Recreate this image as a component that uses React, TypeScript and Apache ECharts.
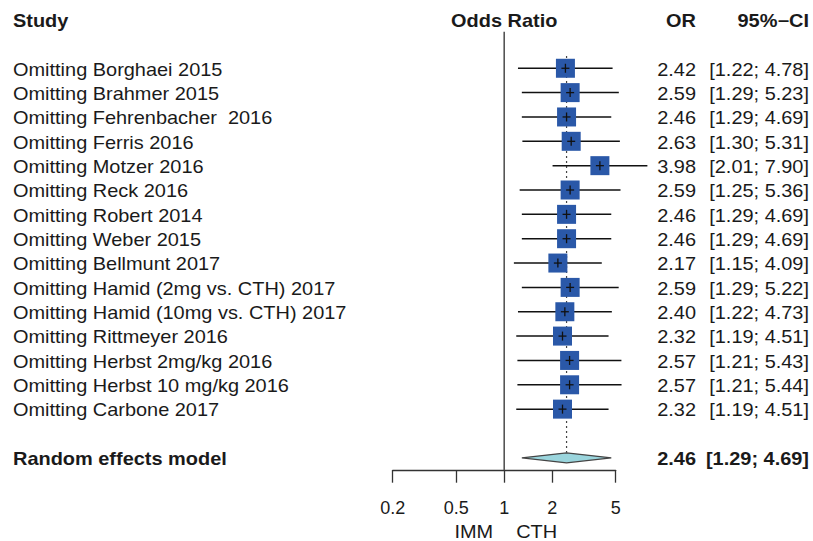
import React, { useEffect, useRef } from "react";
import * as echarts from "echarts";

const studies = [
  "Omitting Borghaei 2015",
  "Omitting Brahmer 2015",
  "Omitting Fehrenbacher  2016",
  "Omitting Ferris 2016",
  "Omitting Motzer 2016",
  "Omitting Reck 2016",
  "Omitting Robert 2014",
  "Omitting Weber 2015",
  "Omitting Bellmunt 2017",
  "Omitting Hamid (2mg vs. CTH) 2017",
  "Omitting Hamid (10mg vs. CTH) 2017",
  "Omitting Rittmeyer 2016",
  "Omitting Herbst 2mg/kg 2016",
  "Omitting Herbst 10 mg/kg 2016",
  "Omitting Carbone 2017",
];
const orValues = [2.42, 2.59, 2.46, 2.63, 3.98, 2.59, 2.46, 2.46, 2.17, 2.59, 2.4, 2.32, 2.57, 2.57, 2.32];
const ciLower = [1.22, 1.29, 1.29, 1.3, 2.01, 1.25, 1.29, 1.29, 1.15, 1.29, 1.22, 1.19, 1.21, 1.21, 1.19];
const ciUpper = [4.78, 5.23, 4.69, 5.31, 7.9, 5.36, 4.69, 4.69, 4.09, 5.22, 4.73, 4.51, 5.43, 5.44, 4.51];
const pooledLabel = "Random effects model";
const pooledValues = [2.46, 1.29, 4.69]; // OR, lower, upper
const tickValues = [0.2, 0.5, 1, 2, 5];
const headers = ["Study", "Odds Ratio", "OR", "95%\u2212CI"];
const sideLabels = ["IMM", "CTH"];

const FONT_FAMILY = '"Liberation Sans", Arial, Helvetica, sans-serif';
const FS = 17.5;
const SX = 1.14;
const TEXT_COLOR = "#1a1a1a";
const POOLED_ROW = 16;
const HEADER_ROW = -2;
const TEXT_DY = 1.2;

const fmt = (v: number) => v.toFixed(2);
const ciText = (lo: number, hi: number) => `[${fmt(lo)}; ${fmt(hi)}]`;

function txt(text: string, x: number, y: number, align: string, bold: boolean) {
  return {
    type: "text",
    x,
    y: y + TEXT_DY,
    scaleX: SX,
    silent: true,
    style: {
      text,
      x: 0,
      y: 0,
      align,
      verticalAlign: "middle",
      fill: TEXT_COLOR,
      font: `${bold ? "bold " : ""}${FS}px ${FONT_FAMILY}`,
    },
  };
}

export default function App() {
  const ref = useRef<HTMLDivElement>(null);

  useEffect(() => {
    if (!ref.current) return;
    const chart = echarts.init(ref.current, null, { renderer: "svg" });

    const studyData = studies.map((_, i) => [
      Math.log10(orValues[i]),
      Math.log10(ciLower[i]),
      Math.log10(ciUpper[i]),
      i,
    ]);

    const textRows = [
      { row: HEADER_ROW, label: headers[0], or: headers[2], ci: headers[3], bold: true },
      ...studies.map((s, i) => ({
        row: i,
        label: s,
        or: fmt(orValues[i]),
        ci: ciText(ciLower[i], ciUpper[i]),
        bold: false,
      })),
      {
        row: POOLED_ROW,
        label: pooledLabel,
        or: fmt(pooledValues[0]),
        ci: ciText(pooledValues[1], pooledValues[2]),
        bold: true,
      },
    ];

    const option: any = {
      animation: false,
      backgroundColor: "#ffffff",
      grid: { left: 392.7, right: 197.3, top: 7.4, bottom: 71, containLabel: false },
      xAxis: {
        type: "value",
        min: Math.log10(tickValues[0]),
        max: Math.log10(tickValues[tickValues.length - 1]),
        splitLine: { show: false },
        axisLine: { show: true, onZero: false, lineStyle: { color: "#333", width: 1.3 } },
        axisTick: {
          show: true,
          length: 12.7,
          customValues: tickValues.map((v) => Math.log10(v)),
          lineStyle: { color: "#333", width: 1.3 },
        },
        axisLabel: {
          show: true,
          customValues: tickValues.map((v) => Math.log10(v)),
          formatter: (v: number) => {
            const r = Math.pow(10, v);
            return String(Math.round(r * 10) / 10);
          },
          margin: 29,
          fontSize: 18,
          fontFamily: FONT_FAMILY,
          color: TEXT_COLOR,
          showMinLabel: true,
          showMaxLabel: true,
        },
      },
      yAxis: {
        type: "value",
        inverse: true,
        min: -2.5,
        max: 16.5,
        show: false,
      },
      series: [
        {
          type: "custom",
          name: "reference",
          clip: false,
          silent: true,
          data: [[Math.log10(1), Math.log10(pooledValues[0]), Math.log10(pooledValues[1]), Math.log10(pooledValues[2])]],
          renderItem: (params: any, api: any) => {
            const xNull = api.coord([api.value(0), 0])[0];
            const xe = api.coord([api.value(1), 0])[0];
            const xl = api.coord([api.value(2), 0])[0];
            const xh = api.coord([api.value(3), 0])[0];
            const yTopNull = api.coord([0, -1.5])[1];
            const yBottom = api.coord([0, 16.5])[1];
            const yTopDot = api.coord([0, -0.5])[1];
            const yPool = api.coord([0, POOLED_ROW])[1];
            const h = 5;
            const ySide = api.coord([0, 19])[1];
            return {
              type: "group",
              children: [
                {
                  type: "line",
                  shape: { x1: xNull, y1: yTopNull, x2: xNull, y2: yBottom },
                  style: { stroke: "#555", lineWidth: 1.6 },
                },
                {
                  type: "line",
                  shape: { x1: xe, y1: yTopDot, x2: xe, y2: yPool - h },
                  style: { stroke: "#444", lineWidth: 1.2, lineDash: [2, 3] },
                },
                {
                  type: "polygon",
                  shape: {
                    points: [
                      [xl, yPool],
                      [xe, yPool - h],
                      [xh, yPool],
                      [xe, yPool + h],
                    ],
                  },
                  style: { fill: "#9ad5dd", stroke: "#444", lineWidth: 1.2 },
                },
                txt(sideLabels[0], xNull - 11, ySide, "right", false),
                txt(sideLabels[1], xNull + 12, ySide, "left", false),
              ],
            };
          },
        },
        {
          type: "custom",
          name: "studies",
          clip: false,
          silent: true,
          data: studyData,
          renderItem: (params: any, api: any) => {
            const y = api.coord([0, api.value(3)])[1];
            const xe = api.coord([api.value(0), 0])[0];
            const xl = api.coord([api.value(1), 0])[0];
            const xh = api.coord([api.value(2), 0])[0];
            const s = 19;
            return {
              type: "group",
              children: [
                {
                  type: "line",
                  shape: { x1: xl, y1: y, x2: xh, y2: y },
                  style: { stroke: "#111", lineWidth: 1.5 },
                },
                {
                  type: "rect",
                  shape: { x: xe - s / 2, y: y - s / 2, width: s, height: s },
                  style: { fill: "#2a58a8" },
                },
                {
                  type: "line",
                  shape: { x1: xe, y1: y - 4.5, x2: xe, y2: y + 4.5 },
                  style: { stroke: "#111", lineWidth: 1.3 },
                },
                {
                  type: "line",
                  shape: { x1: xe - 4, y1: y, x2: xe + 4, y2: y },
                  style: { stroke: "#111", lineWidth: 1.3 },
                },
              ],
            };
          },
        },
        {
          type: "custom",
          name: "texts",
          clip: false,
          silent: true,
          data: textRows.map((r) => [0, r.row]),
          renderItem: (params: any, api: any) => {
            const r = textRows[params.dataIndex];
            const y = api.coord([0, api.value(1)])[1];
            const xCenter = api.coord([0, 0])[0];
            const children: any[] = [
              txt(r.label, 13, y, "left", r.bold),
              txt(r.or, 696, y, "right", r.bold),
              txt(r.ci, 809, y, "right", r.bold),
            ];
            if (r.row === HEADER_ROW) {
              children.push(txt(headers[1], xCenter, y, "center", true));
            }
            return { type: "group", children };
          },
        },
      ],
    };

    chart.setOption(option);
    return () => chart.dispose();
  }, []);

  return (
    <div
      ref={ref}
      style={{ position: "absolute", left: 0, top: 0, width: 813, height: 541, background: "#fff" }}
    />
  );
}
